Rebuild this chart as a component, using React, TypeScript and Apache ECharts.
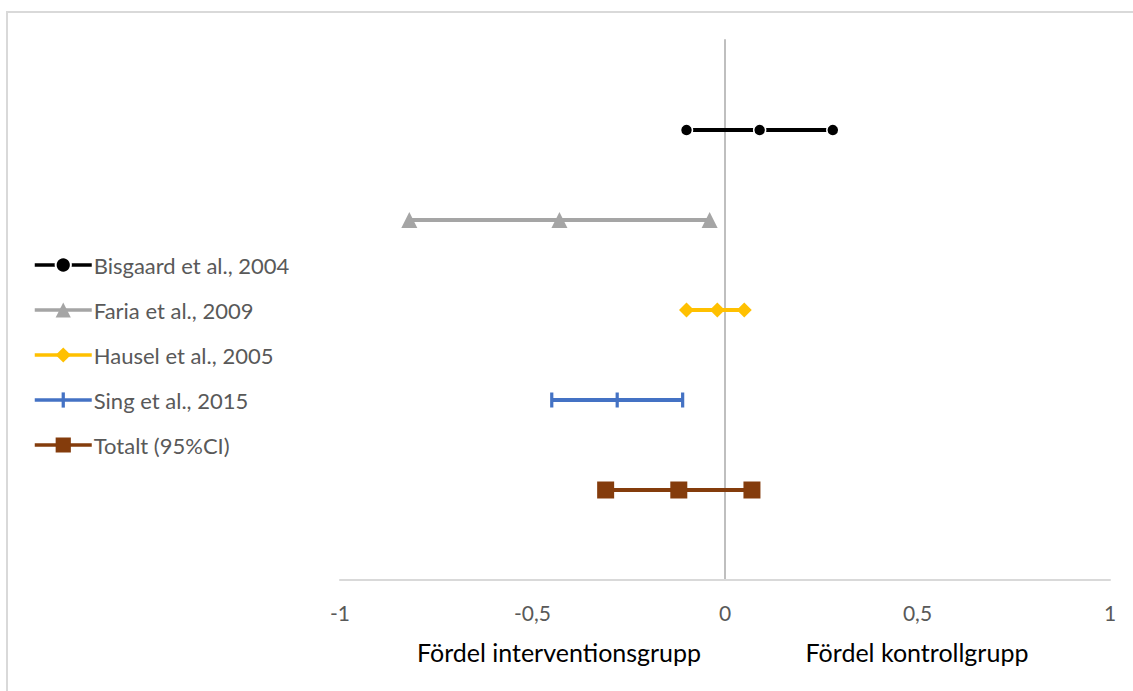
import React, { useEffect, useRef } from "react";
import * as echarts from "echarts";

const studies = [
  "Bisgaard et al., 2004",
  "Faria et al., 2009",
  "Hausel et al., 2005",
  "Sing et al., 2015",
  "Totalt (95%CI)",
];
const yPos = [5, 4, 3, 2, 1];
const lower = [-0.1, -0.82, -0.1, -0.45, -0.31];
const estimate = [0.09, -0.43, -0.02, -0.28, -0.12];
const upper = [0.28, -0.04, 0.05, -0.11, 0.07];
const colors = ["#000000", "#a5a5a5", "#ffc000", "#4472c4", "#843c0c"];
const symbols = [
  "circle",
  "triangle",
  "diamond",
  "path://M0,0M14,14M5.5,0h3v14h-3z",
  "rect",
];
const symbolSizes: any[] = [12, 16, 15, 15, 17];
const borderWidths = [1.5, 0, 0, 0, 0];
const xTicks = [-1, -0.5, 0, 0.5, 1];

const FONT = "Lato, 'Open Sans', sans-serif";

export default function App() {
  const ref = useRef<HTMLDivElement>(null);
  useEffect(() => {
    if (!ref.current) return;
    const chart = echarts.init(ref.current, undefined, { renderer: "svg" });
    const series = studies.map((name, i) => ({
      name,
      type: "line",
      data: [
        [lower[i], yPos[i]],
        [estimate[i], yPos[i]],
        [upper[i], yPos[i]],
      ],
      symbol: symbols[i],
      symbolSize: symbolSizes[i],
      showAllSymbol: true,
      lineStyle: { color: colors[i], width: 4 },
      itemStyle: {
        color: colors[i],
        borderColor: "#ffffff",
        borderWidth: borderWidths[i],
      },
      emphasis: { disabled: true },
      z: 3,
    }));
    chart.setOption({
      animation: false,
      backgroundColor: "#ffffff",
      textStyle: { fontFamily: FONT },
      grid: { left: 340, right: 23, top: 40, bottom: 111 },
      xAxis: {
        type: "value",
        min: -1,
        max: 1,
        interval: 0.5,
        axisLine: { show: true, onZero: false, lineStyle: { color: "#d9d9d9", width: 2 } },
        axisTick: { show: false },
        splitLine: { show: false },
        axisLabel: {
          color: "#595959",
          fontSize: 21,
          margin: 22,
          fontFamily: FONT,
          formatter: (v: number) => {
            const t = xTicks.find((x) => Math.abs(x - v) < 1e-9);
            return String(t !== undefined ? t : v).replace(".", ",");
          },
        },
      },
      yAxis: {
        type: "value",
        min: 0,
        max: 6,
        axisLine: { show: true, onZero: true, lineStyle: { color: "#bfbfbf", width: 2 } },
        axisTick: { show: false },
        axisLabel: { show: false },
        splitLine: { show: false },
      },
      legend: {
        orient: "vertical",
        left: 33,
        top: 254,
        padding: 0,
        itemWidth: 57,
        itemHeight: 19,
        itemGap: 23,
        lineStyle: { width: 3.5 },
        textStyle: {
          color: "#595959",
          fontSize: 22,
          lineHeight: 22,
          fontFamily: FONT,
          padding: [0, 0, 0, -3],
        },
        data: studies,
      },
      graphic: [
        {
          type: "rect",
          shape: { x: 7, y: 12, width: 1300, height: 900 },
          style: { fill: "none", stroke: "#d9d9d9", lineWidth: 2 },
          silent: true,
          z: -1,
        },
        {
          type: "text",
          x: 559,
          y: 652,
          style: {
            text: "Fördel interventionsgrupp",
            fill: "#000000",
            fontSize: 25,
            fontFamily: FONT,
            align: "center",
            verticalAlign: "middle",
          },
        },
        {
          type: "text",
          x: 917,
          y: 652,
          style: {
            text: "Fördel kontrollgrupp",
            fill: "#000000",
            fontSize: 25,
            fontFamily: FONT,
            align: "center",
            verticalAlign: "middle",
          },
        },
      ],
      series,
    });
    return () => chart.dispose();
  }, []);
  return (
    <div
      ref={ref}
      style={{ position: "absolute", left: 0, top: 0, width: 1133, height: 691 }}
    />
  );
}
